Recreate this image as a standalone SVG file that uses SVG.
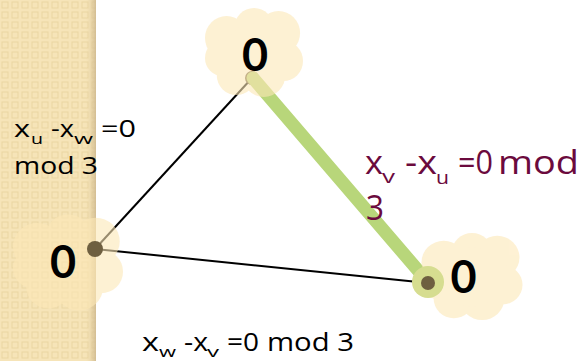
<svg xmlns="http://www.w3.org/2000/svg" xmlns:xlink="http://www.w3.org/1999/xlink" width="581" height="361" viewBox="0 0 581 361">
  <style>
    .lbl { font-family: "Open Sans", Lato, "Liberation Sans", sans-serif; fill: #000; }
    .pur { font-family: "Open Sans", Lato, "Liberation Sans", sans-serif; fill: #6b0a3d; }
    .num { font-family: Lato, "Liberation Sans", sans-serif; font-weight: bold; font-size: 45px; fill: #000; text-anchor: middle; }
    .edge { stroke: #000; stroke-width: 2; fill: none; }
    .dot { fill: #6e5f40; }
    .cloudfill { fill: #fde8b7; }
  </style>
  <defs>
    <pattern id="weave" width="10" height="10" patternUnits="userSpaceOnUse">
      <rect width="10" height="10" fill="#f6e4b8"/>
      <rect x="2" y="2" width="6" height="6" fill="none" stroke="#ebd6a2" stroke-width="1"/>
    </pattern>
    <linearGradient id="edgeShade" x1="0" y1="0" x2="1" y2="0">
      <stop offset="0" stop-color="#e9d5a6" stop-opacity="0"/>
      <stop offset="1" stop-color="#cfb98f" stop-opacity="0.9"/>
    </linearGradient>
    <g id="cloud" class="cloudfill">
      <circle cx="-28" cy="-15" r="22"/>
      <circle cx="0" cy="-25" r="20"/>
      <circle cx="25" cy="-20" r="22"/>
      <circle cx="30" cy="8" r="20"/>
      <circle cx="10" cy="22" r="22"/>
      <circle cx="-18" cy="22" r="20"/>
      <circle cx="-32" cy="5" r="18"/>
      <circle cx="0" cy="0" r="30"/>
    </g>
  </defs>

  <!-- background strip -->
  <rect x="0" y="0" width="96" height="361" fill="url(#weave)"/>
  <rect x="86" y="0" width="10" height="361" fill="url(#edgeShade)"/>

  <!-- connectors -->
  <g id="connectors">
    <line class="edge" x1="95" y1="249" x2="252" y2="78"/>
    <line class="edge" x1="95" y1="249" x2="428" y2="283"/>
    <circle class="dot" cx="252" cy="78" r="7"/>
    <line x1="253" y1="78" x2="428" y2="282" stroke="#b8d67a" stroke-width="13" stroke-linecap="round"/>
  </g>

  <!-- nodes -->
  <g id="node-top">
    <use xlink:href="#cloud" transform="translate(254,53) scale(0.98,1)" opacity="0.6"/>
    <text class="num" x="255" y="71">0</text>
  </g>
  <g id="node-left">
    <use xlink:href="#cloud" transform="translate(68,263) scale(1.1,1.08)" opacity="0.6"/>
    <circle class="dot" cx="95" cy="249" r="8"/>
    <text class="num" x="63" y="278">0</text>
  </g>
  <g id="node-right">
    <use xlink:href="#cloud" transform="translate(472,277) scale(1.01,0.98)" opacity="0.6"/>
    <circle cx="428" cy="282" r="16" fill="#d6dd90"/>
    <circle class="dot" cx="428" cy="283" r="7"/>
    <text class="num" x="463.5" y="293">0</text>
  </g>

  <!-- edge labels -->
  <g id="label-uw" class="lbl" font-size="24">
    <text><tspan x="14" y="137" textLength="16" lengthAdjust="spacingAndGlyphs">x</tspan><tspan x="31" y="144" font-size="14" textLength="12" lengthAdjust="spacingAndGlyphs">u</tspan><tspan x="51" y="137" textLength="23" lengthAdjust="spacingAndGlyphs">-x</tspan><tspan x="74" y="144" font-size="14" textLength="19" lengthAdjust="spacingAndGlyphs">w</tspan><tspan x="101" y="137" textLength="35" lengthAdjust="spacingAndGlyphs">=0</tspan><tspan x="14" y="174" font-size="24" textLength="84" lengthAdjust="spacingAndGlyphs">mod 3</tspan></text>
  </g>
  <g id="label-vu" class="pur" font-size="33">
    <text><tspan x="365" y="174" textLength="18" lengthAdjust="spacingAndGlyphs">x</tspan><tspan x="382" y="183" font-size="19" textLength="13" lengthAdjust="spacingAndGlyphs">v</tspan><tspan x="405" y="174" textLength="32" lengthAdjust="spacingAndGlyphs">-x</tspan><tspan x="436" y="184" font-size="19" textLength="13" lengthAdjust="spacingAndGlyphs">u</tspan><tspan x="458" y="174" textLength="35" lengthAdjust="spacingAndGlyphs">=0</tspan><tspan x="498" y="174" textLength="81" lengthAdjust="spacingAndGlyphs">mod</tspan><tspan x="366" y="220" font-size="35" textLength="18" lengthAdjust="spacingAndGlyphs">3</tspan></text>
  </g>
  <g id="label-wv" class="lbl" font-size="25">
    <text><tspan x="142" y="351" textLength="17" lengthAdjust="spacingAndGlyphs">x</tspan><tspan x="159" y="357" font-size="15" textLength="17" lengthAdjust="spacingAndGlyphs">w</tspan><tspan x="184" y="351" textLength="24" lengthAdjust="spacingAndGlyphs">-x</tspan><tspan x="207" y="357" font-size="15" textLength="12" lengthAdjust="spacingAndGlyphs">v</tspan><tspan x="227" y="351" textLength="32" lengthAdjust="spacingAndGlyphs">=0</tspan><tspan x="267" y="351" textLength="87" lengthAdjust="spacingAndGlyphs">mod 3</tspan></text>
  </g>
</svg>
